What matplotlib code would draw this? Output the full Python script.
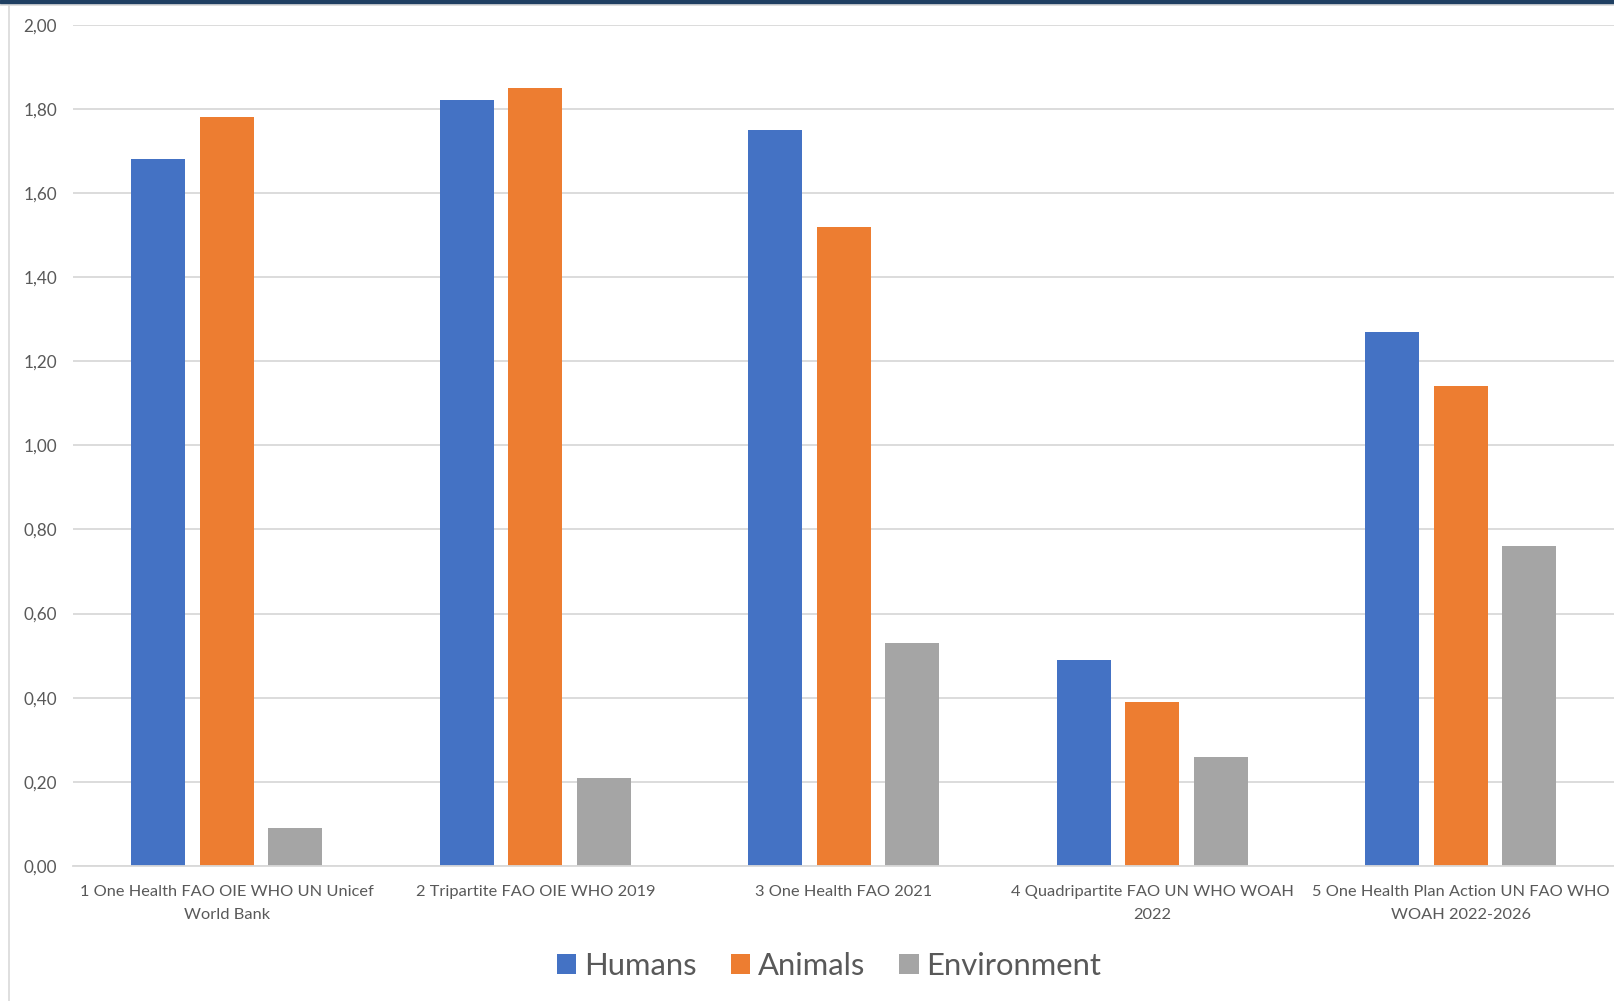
import matplotlib
matplotlib.use("Agg")
import matplotlib.pyplot as plt
from matplotlib.patches import Rectangle
from matplotlib.lines import Line2D
import numpy as np

categories = [
    "1 One Health FAO OIE WHO UN Unicef\nWorld Bank",
    "2 Tripartite FAO OIE WHO 2019",
    "3 One Health FAO 2021",
    "4 Quadripartite FAO UN WHO WOAH\n2022",
    "5 One Health Plan Action UN FAO WHO\nWOAH 2022-2026",
]
series_names = ["Humans", "Animals", "Environment"]
humans = [1.68, 1.82, 1.75, 0.49, 1.27]
animals = [1.78, 1.85, 1.52, 0.39, 1.14]
environment = [0.09, 0.21, 0.53, 0.26, 0.76]
yticks = [0.0, 0.2, 0.4, 0.6, 0.8, 1.0, 1.2, 1.4, 1.6, 1.8, 2.0]

colors = ["#4472C4", "#ED7D31", "#A5A5A5"]
text_color = "#595959"
plt.rcParams["font.family"] = ["Lato", "DejaVu Sans"]

W, H = 1614, 1001
fig = plt.figure(figsize=(W / 100, H / 100), dpi=100)
ax = fig.add_axes([72.5 / W, 1 - 866 / H, (1615 - 72.5) / W, (866 - 24.7) / H])

x = np.arange(len(categories))
bw = 0.174
pitch = 0.222
for i, (vals, c, name) in enumerate(zip([humans, animals, environment], colors, series_names)):
    ax.bar(x + (i - 1) * pitch, vals, width=bw, color=c, label=name, zorder=3)

ax.set_xlim(-0.5, len(categories) - 0.5)
ax.set_ylim(0, 2.0)
ax.set_yticks(yticks)
ax.set_yticklabels([f"{v:.2f}".replace(".", ",") for v in yticks])
ax.set_xticks(x)
ax.set_xticklabels(categories, linespacing=1.78)
ax.yaxis.grid(True, color="#D9D9D9", linewidth=1.3, zorder=0)
ax.tick_params(axis="y", length=0, pad=11, labelsize=12.3, labelcolor=text_color)
ax.tick_params(axis="x", length=0, pad=14, labelsize=11.75, labelcolor=text_color)
for s in ["top", "right", "left"]:
    ax.spines[s].set_visible(False)
ax.spines["bottom"].set_color("#D9D9D9")
ax.spines["bottom"].set_linewidth(1.3)
ax.spines["bottom"].set_zorder(4)

leg = fig.legend(loc="center", bbox_to_anchor=(829 / W, 1 - 966 / H), ncol=3, frameon=False,
                 fontsize=22.3, handlelength=0.63, handleheight=0.63, handletextpad=0.25,
                 columnspacing=1.1, labelcolor=text_color)

# frame decorations
fig.add_artist(Rectangle((0, 1 - 3 / H), 1, 3 / H, transform=fig.transFigure, color="#1F3F62", zorder=10))
fig.add_artist(Line2D([0, 1], [1 - 4.5 / H, 1 - 4.5 / H], transform=fig.transFigure, color="#D9D9D9", linewidth=1.2))
fig.add_artist(Line2D([9 / W, 9 / W], [0, 1 - 4 / H], transform=fig.transFigure, color="#D9D9D9", linewidth=1.2))

fig.savefig("out.png", dpi=100, facecolor="white")
